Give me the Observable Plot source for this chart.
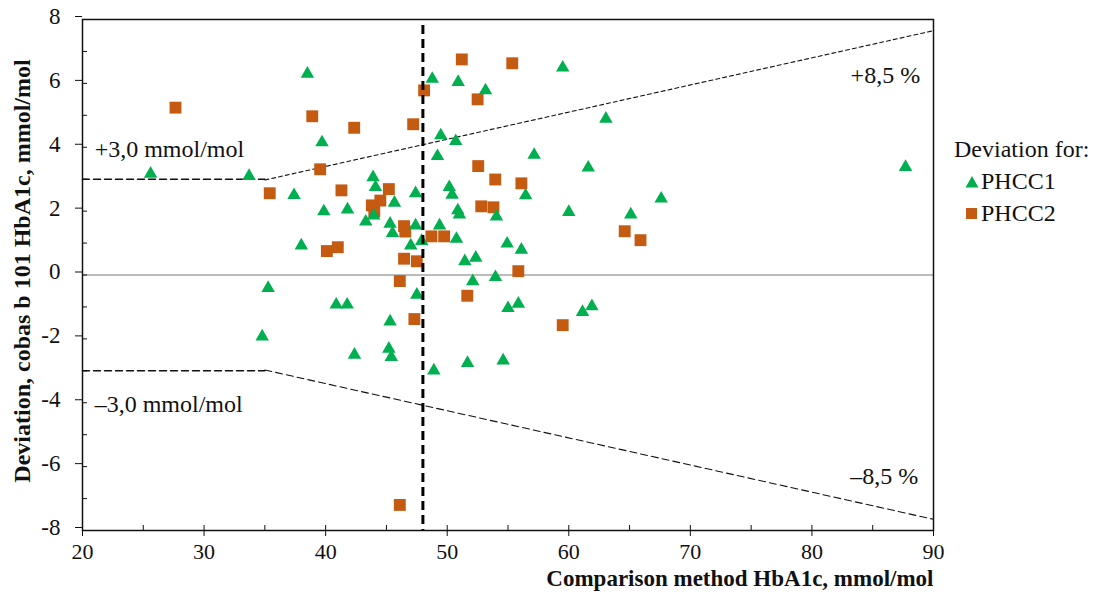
<!DOCTYPE html>
<html>
<head>
<meta charset="utf-8">
<script src="https://cdn.jsdelivr.net/npm/d3@7"></script>
<script src="https://cdn.jsdelivr.net/npm/@observablehq/plot@0.6"></script>
<style>
  body { margin: 0; background: #fff; }
  #wrap { position: relative; width: 1096px; height: 598px; font-family: "Liberation Serif", "Times New Roman", serif; }
  #legend { position: absolute; left: 954px; top: 133px; font-size: 24px; color: #111; line-height: 32px; white-space: nowrap; }
  #legend .row { display: flex; align-items: center; padding-left: 11px; }
  .sym { display: inline-block; margin-right: 2px; }
</style>
</head>
<body>
<div id="wrap">
  <div id="chart"></div>
  <div id="legend">
    <div>Deviation for:</div>
    <div class="row"><svg class="sym" width="14" height="13"><polygon points="7,1 13.5,12.5 0.5,12.5" fill="#00B050"/></svg>PHCC1</div>
    <div class="row"><svg class="sym" width="14" height="13"><rect x="1" y="1" width="11" height="11" fill="#C55A11"/></svg>PHCC2</div>
  </div>
</div>
<script>
// PHCC1 (triangles)
const phcc1X = [25.6,33.7,37.4,38.0,38.5,39.7,39.85,41.8,43.3,43.9,44.1,43.96,45.3,45.5,45.66,47.0,47.4,47.4,47.9,48.77,49.2,49.37,49.47,50.17,50.4,50.7,50.76,50.87,50.9,51.0,51.45,52.35,53.15,54.05,54.93,56.1,56.45,57.15,59.5,60.0,61.6,63.05,65.1,67.6,87.7,
  35.27,34.78,40.87,41.77,42.37,45.3,45.2,45.4,47.5,48.9,51.67,52.1,53.97,54.6,55.0,55.85,61.13,61.9];
const phcc1Y = [3.17,3.1,2.5,0.92,6.3,4.15,1.99,2.05,1.67,3.06,2.75,1.86,1.6,1.31,2.26,0.92,2.56,1.55,1.06,6.14,3.72,1.55,4.37,2.75,2.51,4.19,1.13,2.02,6.04,1.89,0.43,0.54,5.78,1.83,0.98,0.79,2.49,3.76,6.49,1.97,3.36,4.89,1.89,2.39,3.38,
  -0.41,-1.93,-0.93,-0.93,-2.5,-1.46,-2.31,-2.57,-0.62,-2.99,-2.76,-0.2,-0.07,-2.68,-1.04,-0.9,-1.16,-0.98];
// PHCC2 (squares)
const phcc2X = [27.65,35.4,38.9,39.55,40.1,41.0,41.3,42.35,43.8,44.0,44.5,45.2,46.45,46.55,46.45,46.1,47.2,47.3,47.5,48.1,48.7,49.75,51.2,51.65,52.5,52.55,52.8,53.8,53.95,55.35,55.85,56.1,59.5,64.6,65.9,46.1];
const phcc2Y = [5.24,2.56,4.97,3.31,0.75,0.87,2.65,4.61,2.18,2.0,2.33,2.69,1.53,1.36,0.51,-0.19,4.72,-1.38,0.43,5.78,1.21,1.21,6.75,-0.65,5.5,3.41,2.15,2.12,2.99,6.63,0.12,2.87,-1.57,1.37,1.09,-7.2];

// limit lines
const flatX = [20, 35];
const upperFlatY = [3, 3];
const lowerFlatY = [-3, -3];
const slopeX = [35, 90];
const upperSlopeY = [2.975, 7.65];
const lowerSlopeY = [-2.975, -7.65];
const cutoffX = 48;

const xMajor = [20,30,40,50,60,70,80,90];
const xMinor = [25,35,45,55,65,75,85];
const yMajor = [-8,-6,-4,-2,0,2,4,6,8];
const yMinor = [-7,-5,-3,-1,1,3,5,7];

const xLabel = "Comparison method HbA1c, mmol/mol";
const yLabel = "Deviation, cobas b 101 HbA1c, mmol/mol";
const notesLeft = [
  {x: 21, y: 3.95, t: "+3,0 mmol/mol"},
  {x: 21, y: -4.05, t: "\u20133,0 mmol/mol"}
];
const notesRight = [
  {x: 88.9, y: 6.25, t: "+8,5 %"},
  {x: 88.75, y: -6.3, t: "\u20138,5 %"}
];

const d1 = phcc1X.map((x, i) => ({x, y: phcc1Y[i]}));
const d2 = phcc2X.map((x, i) => ({x, y: phcc2Y[i]}));
const pts = (xs, ys) => xs.map((x, i) => ({x, y: ys[i]}));

const chart = Plot.plot({
  width: 1096,
  height: 598,
  marginLeft: 82,
  marginRight: 163,
  marginTop: 19,
  marginBottom: 68,
  style: {fontFamily: "Liberation Serif, Times New Roman, serif", fontSize: "24px", color: "#111", background: "white", overflow: "visible"},
  x: {domain: [20, 90], label: null},
  y: {domain: [-8, 8], label: null},
  marks: [
    Plot.ruleY([0], {stroke: "#a6a6a6", strokeWidth: 1.5}),
    Plot.line(pts(flatX, upperFlatY), {x: "x", y: "y", stroke: "#111", strokeWidth: 1.5, strokeDasharray: "7,4"}),
    Plot.line(pts(flatX, lowerFlatY), {x: "x", y: "y", stroke: "#111", strokeWidth: 1.5, strokeDasharray: "7,4"}),
    Plot.line(pts(slopeX, upperSlopeY), {x: "x", y: "y", stroke: "#111", strokeWidth: 1.1, strokeDasharray: "4,3"}),
    Plot.line(pts(slopeX, lowerSlopeY), {x: "x", y: "y", stroke: "#111", strokeWidth: 1.1, strokeDasharray: "7,4"}),
    Plot.dot(d2, {x: "x", y: "y", symbol: "square", r: 6.7, fill: "#C55A11", stroke: null}),
    Plot.dot(d1, {x: "x", y: "y", symbol: "triangle", r: 5, fill: "#00B050", stroke: null}),
    Plot.ruleX([cutoffX], {stroke: "#000", strokeWidth: 3, strokeDasharray: "9,5", insetTop: 6}),
    Plot.text(notesLeft, {x: "x", y: "y", text: "t", textAnchor: "start", fontSize: 24, fill: "#111"}),
    Plot.text(notesRight, {x: "x", y: "y", text: "t", textAnchor: "end", fontSize: 24, fill: "#111"}),
    Plot.frame({stroke: "#111", strokeWidth: 1.5}),
    Plot.axisX(xMajor, {tickSize: 6, tickPadding: 7, tickFormat: d => String(d), fontSize: 22, stroke: "#111", label: null}),
    Plot.axisX(xMajor.concat(xMinor), {tickSize: -5, tickFormat: () => "", stroke: "#111", label: null}),
    Plot.axisY(yMajor, {tickSize: 7, tickPadding: 15, tickFormat: d => String(d), fontSize: 23, stroke: "#111", label: null, dy: -3}),
    Plot.axisY(yMajor.concat(yMinor), {tickSize: -5, tickFormat: () => "", stroke: "#111", label: null}),
    Plot.text([xLabel], {frameAnchor: "bottom-right", dy: 55, textAnchor: "end", fontWeight: "bold", fontSize: 23, fill: "#111"}),
    Plot.text([yLabel], {frameAnchor: "left", dx: -60, dy: -4, rotate: -90, textAnchor: "middle", fontWeight: "bold", fontSize: 24, fill: "#111"})
  ]
});
document.getElementById("chart").appendChild(chart);
</script>
</body>
</html>
